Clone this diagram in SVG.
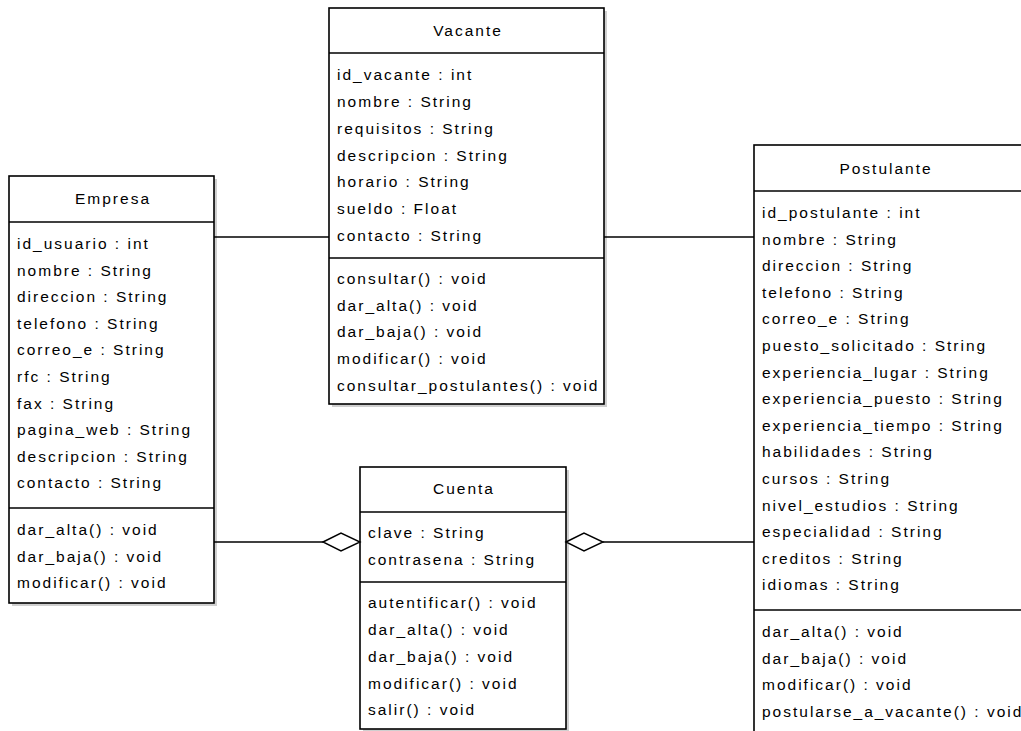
<svg xmlns="http://www.w3.org/2000/svg" width="1021" height="731" viewBox="0 0 1021 731">
<style>
.box{fill:#fff;stroke:#000;stroke-width:1.6}
.sh{fill:#cfcfcf}
.div{stroke:#000;stroke-width:1.6}
.t{font-family:"Liberation Sans",Arial,sans-serif;font-size:15.5px;letter-spacing:2px;fill:#000}
.c{text-anchor:middle}
.ln{stroke:#000;stroke-width:1.6;fill:none}
.dia{fill:#fff;stroke:#000;stroke-width:1.4}
</style>
<rect width="1021" height="731" fill="#fff"/>
<g id="empresa">
<rect class="sh" x="12" y="179" width="205" height="427"/>
<rect class="box" x="9" y="176" width="205" height="427"/>
<line class="div" x1="9" y1="222" x2="214" y2="222"/>
<line class="div" x1="9" y1="508" x2="214" y2="508"/>
<text class="t c" x="113" y="204">Empresa</text>
<text class="t" x="17" y="249">id_usuario : int</text>
<text class="t" x="17" y="275.6">nombre : String</text>
<text class="t" x="17" y="302.2">direccion : String</text>
<text class="t" x="17" y="328.8">telefono : String</text>
<text class="t" x="17" y="355.4">correo_e : String</text>
<text class="t" x="17" y="382">rfc : String</text>
<text class="t" x="17" y="408.6">fax : String</text>
<text class="t" x="17" y="435.2">pagina_web : String</text>
<text class="t" x="17" y="461.8">descripcion : String</text>
<text class="t" x="17" y="488.4">contacto : String</text>
<text class="t" x="17" y="535">dar_alta() : void</text>
<text class="t" x="17" y="561.5">dar_baja() : void</text>
<text class="t" x="17" y="588">modificar() : void</text>
</g>
<g id="vacante">
<rect class="sh" x="332" y="11" width="275" height="396"/>
<rect class="box" x="329" y="8" width="275" height="396"/>
<line class="div" x1="329" y1="53" x2="604" y2="53"/>
<line class="div" x1="329" y1="258" x2="604" y2="258"/>
<text class="t c" x="468" y="36">Vacante</text>
<text class="t" x="337" y="80">id_vacante : int</text>
<text class="t" x="337" y="107">nombre : String</text>
<text class="t" x="337" y="134">requisitos : String</text>
<text class="t" x="337" y="161">descripcion : String</text>
<text class="t" x="337" y="187">horario : String</text>
<text class="t" x="337" y="214">sueldo : Float</text>
<text class="t" x="337" y="241">contacto : String</text>
<text class="t" x="337" y="284">consultar() : void</text>
<text class="t" x="337" y="311">dar_alta() : void</text>
<text class="t" x="337" y="337">dar_baja() : void</text>
<text class="t" x="337" y="364">modificar() : void</text>
<text class="t" x="337" y="391">consultar_postulantes() : void</text>
</g>
<g id="postulante">
<rect class="sh" x="757" y="148" width="290" height="600"/>
<rect class="box" x="754" y="145" width="290" height="600"/>
<line class="div" x1="754" y1="191" x2="1044" y2="191"/>
<line class="div" x1="754" y1="610" x2="1044" y2="610"/>
<text class="t c" x="886" y="174">Postulante</text>
<text class="t" x="762" y="218">id_postulante : int</text>
<text class="t" x="762" y="244.6">nombre : String</text>
<text class="t" x="762" y="271.2">direccion : String</text>
<text class="t" x="762" y="297.8">telefono : String</text>
<text class="t" x="762" y="324.4">correo_e : String</text>
<text class="t" x="762" y="351">puesto_solicitado : String</text>
<text class="t" x="762" y="377.6">experiencia_lugar : String</text>
<text class="t" x="762" y="404.2">experiencia_puesto : String</text>
<text class="t" x="762" y="430.8">experiencia_tiempo : String</text>
<text class="t" x="762" y="457.4">habilidades : String</text>
<text class="t" x="762" y="484">cursos : String</text>
<text class="t" x="762" y="510.6">nivel_estudios : String</text>
<text class="t" x="762" y="537.2">especialidad : String</text>
<text class="t" x="762" y="563.8">creditos : String</text>
<text class="t" x="762" y="590.4">idiomas : String</text>
<text class="t" x="762" y="637">dar_alta() : void</text>
<text class="t" x="762" y="663.6">dar_baja() : void</text>
<text class="t" x="762" y="690.2">modificar() : void</text>
<text class="t" x="762" y="716.8">postularse_a_vacante() : void</text>
</g>
<g id="cuenta">
<rect class="sh" x="363" y="470" width="206" height="262"/>
<rect class="box" x="360" y="467" width="206" height="262"/>
<line class="div" x1="360" y1="512" x2="566" y2="512"/>
<line class="div" x1="360" y1="582" x2="566" y2="582"/>
<text class="t c" x="464" y="494">Cuenta</text>
<text class="t" x="368" y="538">clave : String</text>
<text class="t" x="368" y="565">contrasena : String</text>
<text class="t" x="368" y="608">autentificar() : void</text>
<text class="t" x="368" y="635">dar_alta() : void</text>
<text class="t" x="368" y="662">dar_baja() : void</text>
<text class="t" x="368" y="689">modificar() : void</text>
<text class="t" x="368" y="715">salir() : void</text>
</g>
<g id="connectors">
<line class="ln" x1="214" y1="237" x2="329" y2="237"/>
<line class="ln" x1="604" y1="237" x2="754" y2="237"/>
<line class="ln" x1="214" y1="542" x2="323" y2="542"/>
<polygon class="dia" points="323,542 341,533 360,542 341,551"/>
<line class="ln" x1="603" y1="542" x2="754" y2="542"/>
<polygon class="dia" points="566,542 584,533 603,542 584,551"/>
</g>
</svg>
